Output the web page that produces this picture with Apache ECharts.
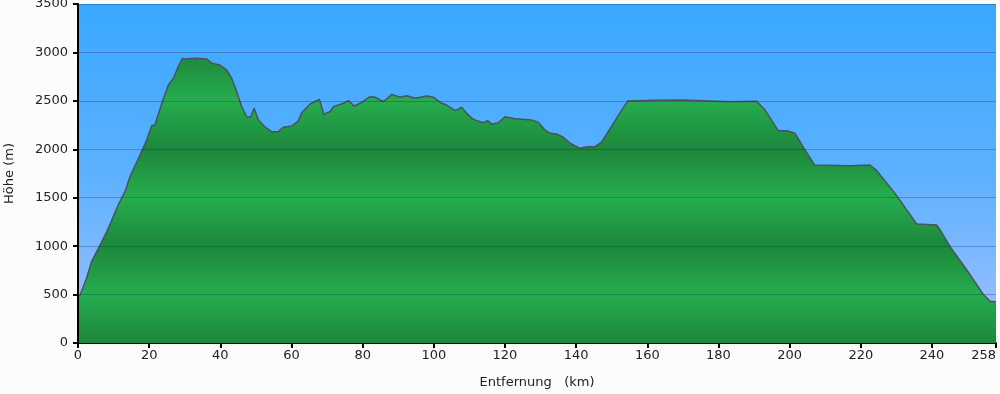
<!DOCTYPE html>
<html>
<head>
<meta charset="utf-8">
<script src="https://cdn.jsdelivr.net/npm/echarts@6/dist/echarts.min.js"></script>
<style>
html,body{margin:0;padding:0;background:#fcfdfa;}
#c{width:1000px;height:394px;}
</style>
</head>
<body>
<div id="c"></div>
<script>
const distKm = [0,0.6,2.4,3.8,6.2,8.1,11.3,13.2,14.6,17.0,19.3,20.7,21.6,23.7,25.4,26.8,28.2,29.3,30.1,32.9,36.2,37.6,39.9,41.8,43.2,44.6,46.0,47.4,48.5,49.5,50.7,52.6,54.4,56.3,57.7,60.1,61.9,62.9,65.2,67.8,69.2,69.9,70.8,71.8,74.6,76.0,77.6,79.3,82.1,83.5,85.8,88.2,90.5,92.4,94.7,98.0,99.9,102.2,103.6,106.0,107.8,109.2,111.1,113.9,115.1,116.4,118.1,120.0,122.8,127.5,129.4,131.2,132.7,134.5,136.4,138.3,141.1,143.0,145.3,147.2,150.0,152.8,154.5,162.2,170.1,183.2,190.7,193.1,196.8,199.2,201.5,204.3,207.0,217.0,222.6,224.5,229.6,235.7,241.3,242.3,245.1,249.8,254.4,256.3,258];
const elevM = [480,495,668,840,1012,1150,1425,1562,1717,1907,2096,2243,2251,2491,2664,2733,2853,2939,2932,2939,2932,2888,2870,2818,2733,2595,2440,2336,2333,2423,2302,2230,2182,2182,2227,2240,2295,2378,2468,2516,2354,2378,2388,2440,2475,2502,2447,2475,2543,2537,2491,2567,2537,2553,2526,2550,2537,2475,2457,2399,2433,2371,2309,2274,2295,2258,2274,2336,2316,2302,2278,2199,2165,2158,2124,2062,2010,2027,2027,2078,2240,2405,2498,2505,2509,2491,2495,2405,2192,2192,2165,1993,1838,1831,1838,1779,1545,1229,1218,1167,994,754,503,430,425];
const xTicks = [0,20,40,60,80,100,120,140,160,180,200,220,240,258];
const yTicks = [0,500,1000,1500,2000,2500,3000,3500];

const chart = echarts.init(document.getElementById('c'), null, {renderer:'canvas'});
const data = distKm.map((d,i)=>[d, elevM[i]]);
const dark = '#1c873b', light = '#26ad4e';
const font = {fontFamily:'DejaVu Sans', fontSize:13, color:'#222'};
chart.setOption({
  animation:false,
  backgroundColor:'#fcfdfa',
  grid:{left:78,right:4,top:4,bottom:51,show:true,borderWidth:0,outerBoundsMode:'none',containLabel:false,
    backgroundColor:new echarts.graphic.LinearGradient(0,0,0,1,[
      {offset:0,color:'#38a7ff'},{offset:0.5,color:'#5cb1ff'},{offset:1,color:'#a3c0ff'}])},
  xAxis:{type:'value',min:0,max:258,
    name:'Entfernung   (km)',nameLocation:'middle',nameGap:33,
    nameTextStyle:font,
    axisLine:{lineStyle:{color:'#000',width:2}},
    axisTick:{length:5,lineStyle:{color:'#000',width:2},customValues:xTicks},
    axisLabel:Object.assign({customValues:xTicks,margin:6,alignMaxLabel:'right',formatter:v=>String(v)},font),
    splitLine:{show:false}},
  yAxis:{type:'value',min:0,max:3500,interval:500,z:5,
    name:'Höhe (m)',nameLocation:'middle',nameGap:62,nameRotate:90,
    nameTextStyle:font,
    axisLine:{show:true,lineStyle:{color:'#000',width:2}},
    axisTick:{show:true,length:5,lineStyle:{color:'#000',width:2},customValues:yTicks},
    axisLabel:Object.assign({margin:10,customValues:yTicks,formatter:v=>String(v)},font),
    splitLine:{show:true,lineStyle:{color:'rgba(20,40,80,0.3)',width:1}}},
  series:[{type:'line',data:data,symbol:'none',z:2,
    lineStyle:{color:'#4a5262',width:1.5},
    areaStyle:{opacity:1,origin:'start',
      color:new echarts.graphic.LinearGradient(0,52.4,0,343,[
        {offset:0,color:dark},{offset:0.1667,color:light},
        {offset:0.3333,color:dark},{offset:0.5,color:light},
        {offset:0.6667,color:dark},{offset:0.8333,color:light},
        {offset:1,color:dark}],true)}}]
});
</script>
</body>
</html>
